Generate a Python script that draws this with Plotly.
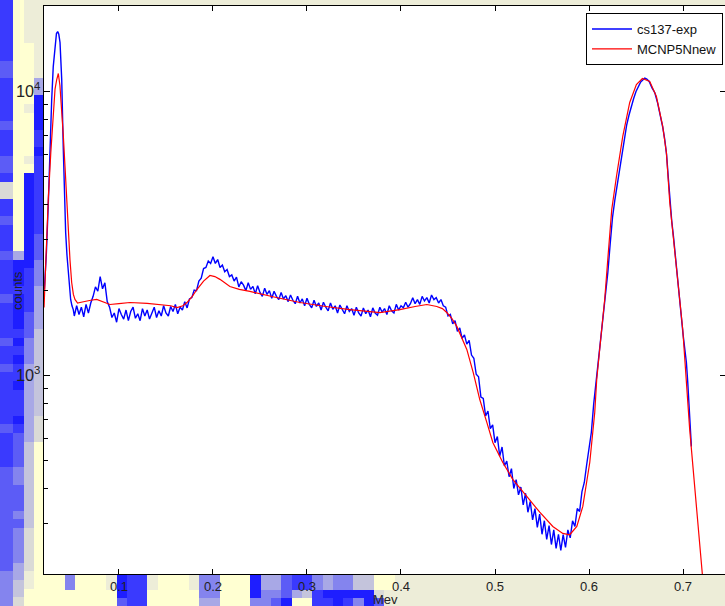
import plotly.graph_objects as go
import math

# ---------------- data ----------------
# measured spectrum (cs137-exp): energy [MeV], counts
exp_energy = [
    0.0206, 0.0228, 0.0248, 0.0266, 0.0284, 0.0301, 0.0320, 0.0335, 0.0348, 0.0360,
    0.0373, 0.0391, 0.0408, 0.0420, 0.0433, 0.0447, 0.0461, 0.0474, 0.0486, 0.0500,
    0.0514,
    0.0525, 0.0550, 0.0575, 0.0600, 0.0625, 0.0650, 0.0675, 0.0700,
    0.0725, 0.0750, 0.0775, 0.0800, 0.0825, 0.0850, 0.0875,
    0.0900, 0.0925, 0.0950, 0.0975, 0.1000, 0.1025, 0.1050, 0.1075, 0.1100, 0.1125,
    0.1150, 0.1175, 0.1200, 0.1225, 0.1250, 0.1275, 0.1300, 0.1325, 0.1350, 0.1375,
    0.1400, 0.1425, 0.1450, 0.1475, 0.1500, 0.1525, 0.1550, 0.1575, 0.1600, 0.1625,
    0.1650, 0.1675, 0.1700, 0.1725, 0.1750,
    0.1775, 0.1800, 0.1825, 0.1850, 0.1875, 0.1900, 0.1925, 0.1950, 0.1975, 0.2000,
    0.2025, 0.2050, 0.2075, 0.2100, 0.2125, 0.2150, 0.2175, 0.2200,
    0.2225, 0.2250, 0.2275, 0.2300, 0.2325, 0.2350, 0.2375, 0.2400, 0.2425, 0.2450,
    0.2475, 0.2500, 0.2525, 0.2550, 0.2575, 0.2600, 0.2625, 0.2650, 0.2675, 0.2700,
    0.2725, 0.2750, 0.2775, 0.2800, 0.2825, 0.2850, 0.2875, 0.2900, 0.2925, 0.2950,
    0.2975, 0.3000, 0.3025, 0.3050, 0.3075, 0.3100, 0.3125, 0.3150, 0.3175, 0.3200,
    0.3225, 0.3250, 0.3275, 0.3300, 0.3325, 0.3350, 0.3375, 0.3400, 0.3425, 0.3450,
    0.3475, 0.3500, 0.3525, 0.3550, 0.3575, 0.3600, 0.3625, 0.3650, 0.3675, 0.3700,
    0.3725, 0.3750, 0.3775, 0.3800, 0.3825, 0.3850, 0.3875, 0.3900, 0.3925, 0.3950,
    0.3975, 0.4000,
    0.4025, 0.4050, 0.4075, 0.4100, 0.4125, 0.4150, 0.4175, 0.4200, 0.4225, 0.4250,
    0.4275, 0.4300, 0.4325, 0.4350, 0.4375, 0.4400, 0.4425, 0.4450,
    0.4475, 0.4500, 0.4525, 0.4550, 0.4575, 0.4600, 0.4625, 0.4650, 0.4675, 0.4700,
    0.4725, 0.4750, 0.4775, 0.4800, 0.4825, 0.4850, 0.4875, 0.4900, 0.4925, 0.4950,
    0.4975, 0.5000, 0.5025, 0.5050, 0.5075, 0.5100, 0.5125, 0.5150, 0.5175, 0.5200,
    0.5225, 0.5250, 0.5275, 0.5300, 0.5325, 0.5350, 0.5375, 0.5400, 0.5425, 0.5450,
    0.5475, 0.5500, 0.5525, 0.5550, 0.5575, 0.5600, 0.5625, 0.5650, 0.5675, 0.5700,
    0.5725, 0.5750, 0.5775, 0.5800, 0.5825, 0.5850, 0.5875, 0.5900, 0.5925, 0.5950,
    0.5975, 0.6000, 0.6025, 0.6050, 0.6075,
    0.6100, 0.6125, 0.6150, 0.6175, 0.6200, 0.6225, 0.6250, 0.6275, 0.6300, 0.6325,
    0.6350, 0.6375, 0.6400, 0.6425, 0.6450, 0.6475, 0.6500, 0.6525, 0.6550, 0.6575,
    0.6593, 0.6615, 0.6640, 0.6670, 0.6700, 0.6730, 0.6760, 0.6784, 0.6805, 0.6825,
    0.6845, 0.6860, 0.6880, 0.6900, 0.6925, 0.6950, 0.6975, 0.7000, 0.7020, 0.7036,
    0.7050, 0.7064, 0.7078, 0.7089,
]
exp_counts = [
    2008, 2700, 4000, 6780, 9300, 12240, 14880, 16000, 16260, 15900,
    14880, 11020, 6250, 4200, 3190, 2650, 2305, 2050, 1852, 1760,
    1706,
    1620, 1760, 1640, 1740, 1610, 1780, 1660, 1800,
    1900, 2050, 1980, 2230, 2020, 2120, 1820,
    1740, 1600, 1660, 1540, 1720, 1640, 1580, 1700, 1560, 1680,
    1740, 1590, 1650, 1560, 1720, 1620, 1700, 1580, 1660, 1740,
    1600, 1690, 1620, 1760, 1660, 1620, 1750, 1680, 1780, 1650,
    1740, 1700, 1820, 1730, 1860,
    1880, 2000, 1990, 2150, 2200, 2380, 2400, 2530, 2480, 2620,
    2480, 2560, 2400, 2450, 2320, 2360, 2230, 2260,
    2150, 2220, 2050, 2140, 2080, 1990, 2120, 2010, 2060, 1940,
    2070, 1960, 1900, 2030, 1930, 1990, 1870, 1980, 1900, 1850,
    1960, 1860, 1910, 1820, 1920, 1840, 1790, 1900, 1800, 1860,
    1760, 1870, 1780, 1730, 1840, 1750, 1800, 1700, 1810, 1740,
    1690, 1800, 1710, 1760, 1660, 1770, 1700, 1650, 1760, 1680,
    1720, 1630, 1740, 1660, 1620, 1730, 1650, 1700, 1610, 1730,
    1660, 1630, 1740, 1670, 1720, 1640, 1760, 1690, 1660, 1780,
    1700, 1760,
    1730, 1810, 1740, 1790, 1880, 1790, 1850, 1780, 1900, 1830,
    1880, 1800, 1920, 1850, 1880, 1800, 1850, 1760,
    1740, 1620, 1640, 1520, 1560, 1430, 1470, 1350, 1390, 1290,
    1330, 1180, 1150, 1010, 990, 840, 830, 720, 750, 650,
    670, 580, 610, 520, 560, 480, 500, 440, 470, 400,
    430, 380, 405, 350, 385, 330, 360, 310, 340, 292,
    325, 276, 308, 265, 296, 254, 286, 246, 276, 242,
    275, 248, 286, 268, 308, 294, 340, 332, 390, 420,
    485, 550, 631, 794, 944,
    1100, 1320, 1550, 1850, 2300, 2900, 3600, 4150, 4700, 5350,
    6100, 6800, 7600, 8250, 8900, 9450, 10000, 10400, 10800, 11000,
    11150, 11050, 10850, 10300, 9900, 9100, 8200, 7500, 6800, 6000,
    4900, 4100, 3500, 3050, 2550, 2100, 1700, 1400, 1250, 1111,
    950, 778, 660, 562,
]

# simulated spectrum (MCNP5Nnew): energy [MeV], counts
mcnp_energy = [
    0.0203, 0.0225, 0.0248, 0.0275, 0.0301, 0.0320, 0.0338, 0.0355, 0.0372, 0.0391,
    0.0408, 0.0426, 0.0443, 0.0461, 0.0479, 0.0497, 0.0515, 0.0532, 0.0560, 0.0585,
    0.0650, 0.0700, 0.0763, 0.0830, 0.0904, 0.1000, 0.1117, 0.1300, 0.1468, 0.1550,
    0.1617, 0.1680, 0.1723, 0.1780, 0.1829, 0.1900, 0.1968, 0.2020, 0.2074, 0.2130,
    0.2180, 0.2280, 0.2393, 0.2650, 0.2924, 0.3200, 0.3456, 0.3775, 0.3988, 0.4150,
    0.4275, 0.4381, 0.4440, 0.4487, 0.4540, 0.4594, 0.4658, 0.4700, 0.4770, 0.4838,
    0.4913, 0.4977, 0.5083, 0.5189, 0.5338, 0.5476, 0.5615, 0.5721, 0.5795, 0.5870,
    0.5934, 0.6008, 0.6061, 0.6082, 0.6125, 0.6167, 0.6205, 0.6242, 0.6292, 0.6359,
    0.6433, 0.6504, 0.6568, 0.6646, 0.6717, 0.6784, 0.6823, 0.6859, 0.6930, 0.6997,
    0.7071, 0.7199, 0.7220,
]
mcnp_counts = [
    1735, 2700, 4170, 6100, 8640, 10200, 11020, 11570, 10500, 8640,
    7000, 5440, 4100, 3190, 2550, 2125, 1930, 1852, 1800, 1807,
    1830, 1840, 1852, 1820, 1778, 1790, 1807, 1795, 1778, 1760,
    1735, 1760, 1807, 1900, 2008, 2150, 2250, 2230, 2180, 2110,
    2057, 2010, 1977, 1890, 1807, 1750, 1706, 1666, 1706, 1750,
    1778, 1750, 1720, 1666, 1590, 1489, 1339, 1235, 1020, 823,
    684, 581, 494, 431, 375, 330, 294, 278, 275, 294,
    346, 494, 741, 968, 1350, 1852, 2700, 3845, 5020, 6950,
    9150, 10580, 11110, 10840, 9600, 7540, 6100, 4065, 2400, 1452,
    646, 202, 176,
]

x_ticks = [0.1, 0.2, 0.3, 0.4, 0.5, 0.6, 0.7]
series_names = ["cs137-exp", "MCNP5Nnew"]

# background mosaic of the screenshot (colour codes per cell)
mosaic_colors = {
    "Y": "#FFFFD2", "E": "#EDEDD8", "G": "#DADAD6", "W": "#C4C4DC", "L": "#A8A8E6",
    "M": "#8484EE", "b": "#5C5CF6", "B": "#3A3AFE", "D": "#1E1EFF",
}
left_strip = [
    "BYEE", "BYEE", "BYEE", "BYEE", "BYEE", "BYYE", "BYYE", "bYYE", "bYYE", "BYYL",
    "BYYL", "BYYD", "BYED", "BYYD", "bYYD", "BYYB", "BYYB", "BYYD", "bYEB", "bYYB",
    "BYDB", "GYDB", "GYDB", "BYDB", "BYDB", "bYDB", "BYDB", "BYDb", "BYDb", "bLDb",
    "BDDM", "BDBM", "BDBM", "BBBL", "bDBL", "BDBL", "BDbL", "BDbL", "BBbW", "bDMW",
    "BBMW", "BDMW", "bBLW", "BBLW", "BDLW", "BBLW", "BBLW", "BBLW", "BDLG", "bBLG",
    "BbLG", "BbWY", "BbWY", "BbWY", "bMWY", "bMWY", "bbWY", "bbWY", "bbWY", "bMWY",
    "bbWY", "bMGY", "bMGY", "bMGY", "bMGY", "bLGY", "MLEY", "MWEY", "MWYY", "MGYY",
]
bottom_strip = [
    "YYMYYYEDBBEYYYEMMYYYDLLbBBMLMMWWYYE",
    "YYYYYYYDBBYYYYYMMYYYDMMbLWBDDDDDGEE",
    "YYYYYYYbBBYYYYYLLYYYMMbDYYBBDBMDbEE",
]

# ---------------- figure ----------------
W, H = 725, 606
L_PX, T_PX, B_PX = 44, 6, 574
codes = list(mosaic_colors.keys())
code_idx = {c: i for i, c in enumerate(codes)}
cscale = [[i / (len(codes) - 1), mosaic_colors[c]] for i, c in enumerate(codes)]

def zmat(rows, ncols=None):
    out = []
    for r in rows:
        if ncols is not None:
            r = r.ljust(ncols, "E")
        out.append([code_idx[ch] for ch in r])
    return out

fig = go.Figure()

# left strip
left_x = [0, 13, 23.5, 34, L_PX]
left_y = [H * i / len(left_strip) for i in range(len(left_strip) + 1)]
fig.add_trace(go.Heatmap(x=left_x, y=left_y, z=zmat(left_strip), colorscale=cscale,
                         zmin=0, zmax=len(codes) - 1, showscale=False, hoverinfo="skip",
                         xaxis="x", yaxis="y"))
# bottom strip
bx = [float(L_PX)]
e = 54.7
while e < W - 1:
    bx.append(e)
    e += 10.3
bx.append(W)
fig.add_trace(go.Heatmap(x=bx, y=[B_PX, 590, 598, H], z=zmat(bottom_strip, len(bx) - 1),
                         colorscale=cscale, zmin=0, zmax=len(codes) - 1, showscale=False,
                         hoverinfo="skip", xaxis="x", yaxis="y"))
# top strip
fig.add_trace(go.Heatmap(x=[L_PX, W], y=[0, T_PX], z=[[code_idx["E"]]], colorscale=cscale,
                         zmin=0, zmax=len(codes) - 1, showscale=False, hoverinfo="skip",
                         xaxis="x", yaxis="y"))

fig.add_trace(go.Scatter(x=exp_energy, y=exp_counts, mode="lines", name=series_names[0],
                         line=dict(color="#0000FF", width=1.4), xaxis="x2", yaxis="y2"))
fig.add_trace(go.Scatter(x=mcnp_energy, y=mcnp_counts, mode="lines", name=series_names[1],
                         line=dict(color="#FF0000", width=1.2), xaxis="x2", yaxis="y2"))
# empty helper trace so the right-hand tick axis is drawn
fig.add_trace(go.Scatter(x=[None], y=[None], mode="lines", showlegend=False,
                         hoverinfo="skip", xaxis="x2", yaxis="y3"))

yr = [math.log10(200), math.log10(20000)]
x0 = 0.1 - (119 - L_PX) / 940.5
x1 = 0.7 + (W - 683) / 940.5

fig.update_layout(
    width=W, height=H,
    margin=dict(l=0, r=0, t=0, b=0, pad=0),
    paper_bgcolor="#EDEDD8", plot_bgcolor="white",
    font=dict(family="Liberation Sans, Arial, sans-serif", size=13, color="#222222"),
    showlegend=True,
    xaxis=dict(domain=[0, 1], range=[0, W], visible=False, fixedrange=True),
    yaxis=dict(domain=[0, 1], range=[H, 0], visible=False, fixedrange=True),
    xaxis2=dict(domain=[L_PX / W, 1], anchor="y2", range=[x0, x1],
                tickvals=x_ticks, ticktext=[f"{v:.1f}" for v in x_ticks],
                ticks="inside", ticklen=5, tickcolor="black", showline=True,
                linecolor="black", linewidth=1, mirror="ticks", showgrid=False,
                zeroline=False, automargin=False),
    yaxis2=dict(domain=[1 - B_PX / H, 1 - T_PX / H], anchor="x2", type="log", range=yr,
                dtick=1, exponentformat="power", ticks="inside", ticklen=6,
                tickcolor="black", showline=True, linecolor="black", linewidth=1,
                mirror=False, showgrid=False, zeroline=False, automargin=False,
                minor=dict(ticks="inside", ticklen=4, tickcolor="black", showgrid=False)),
    yaxis3=dict(overlaying="y2", anchor="x2", side="right", type="log", range=yr,
                dtick=1, ticks="inside", ticklen=5, tickcolor="black",
                showticklabels=False, showline=False, showgrid=False, zeroline=False),
    legend=dict(x=586 / W, y=1 - 13 / H, xanchor="left", yanchor="top",
                bgcolor="white", bordercolor="black", borderwidth=1,
                font=dict(size=13, color="#111111"), itemwidth=40, tracegroupgap=0),
    annotations=[
        dict(text="counts", x=7.5 / W, y=1 - 291 / H, xref="paper", yref="paper",
             textangle=-90, showarrow=False, font=dict(size=13)),
        dict(text="Mev", x=385.5 / W, y=1 - 599.5 / H, xref="paper", yref="paper",
             xanchor="center", yanchor="middle", showarrow=False, font=dict(size=13)),
    ],
)

fig.write_html("out.html", config={"displayModeBar": False},
               post_script="document.body.style.margin='0px';"
                           "document.body.style.overflow='hidden';")
